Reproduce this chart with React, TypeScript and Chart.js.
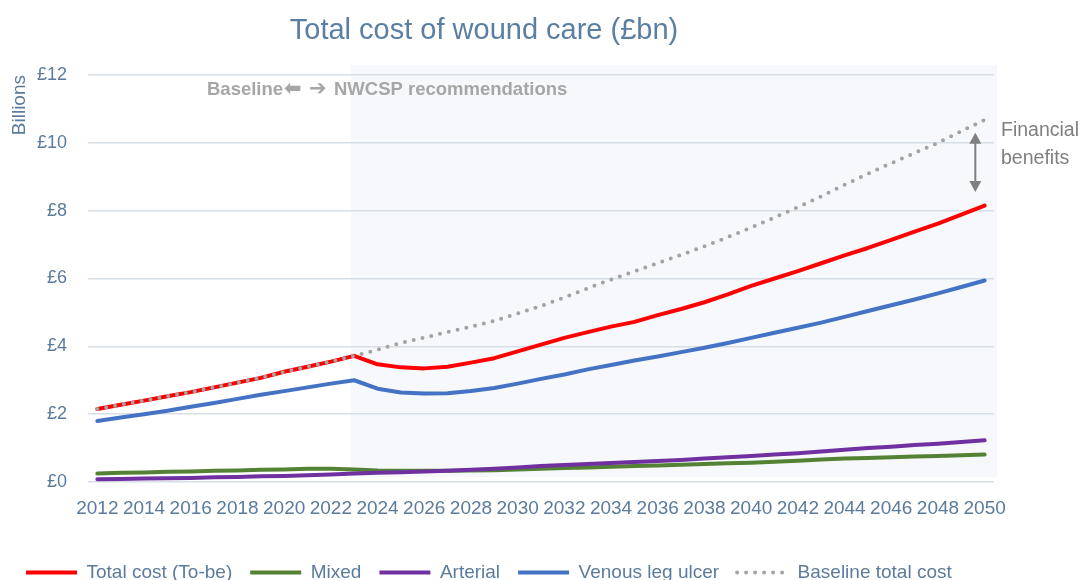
import React, { useEffect, useRef } from "react";
import { Chart, registerables } from "chart.js";

Chart.register(...registerables);

const years = [
  2012, 2013, 2014, 2015, 2016, 2017, 2018, 2019, 2020, 2021, 2022, 2023,
  2024, 2025, 2026, 2027, 2028, 2029, 2030, 2031, 2032, 2033, 2034, 2035,
  2036, 2037, 2038, 2039, 2040, 2041, 2042, 2043, 2044, 2045, 2046, 2047,
  2048, 2049, 2050,
];

const totalCostToBe = [
  2.15, 2.28, 2.4, 2.53, 2.65, 2.79, 2.93, 3.07, 3.25, 3.4, 3.55, 3.72,
  3.47, 3.38, 3.35, 3.4, 3.52, 3.65, 3.85, 4.05, 4.25, 4.42, 4.58, 4.72,
  4.92, 5.1, 5.3, 5.53, 5.78, 6.0, 6.22, 6.45, 6.68, 6.9, 7.14, 7.38,
  7.62, 7.88, 8.15,
];

const mixed = [
  0.25, 0.27, 0.28, 0.3, 0.31, 0.33, 0.34, 0.36, 0.37, 0.39, 0.39, 0.37,
  0.34, 0.33, 0.33, 0.33, 0.34, 0.35, 0.37, 0.39, 0.41, 0.43, 0.45, 0.47,
  0.49, 0.51, 0.53, 0.55, 0.57, 0.6, 0.63, 0.66, 0.69, 0.71, 0.73, 0.75,
  0.77, 0.79, 0.81,
];

const arterial = [
  0.08, 0.09, 0.1, 0.11, 0.12, 0.14, 0.15, 0.17, 0.18, 0.2, 0.22, 0.25,
  0.27, 0.29, 0.31, 0.33, 0.36, 0.39, 0.43, 0.47, 0.5, 0.53, 0.56, 0.59,
  0.62, 0.65, 0.69, 0.73, 0.77, 0.81, 0.85, 0.9, 0.95, 1.0, 1.04, 1.09,
  1.13, 1.18, 1.23,
];

const venousLegUlcer = [
  1.8, 1.9, 2.0, 2.1, 2.22, 2.33, 2.45, 2.57, 2.68, 2.79, 2.9, 3.0,
  2.75, 2.64, 2.61, 2.62, 2.68, 2.77, 2.9, 3.04, 3.17, 3.32, 3.45, 3.58,
  3.7, 3.83, 3.96, 4.1, 4.25, 4.4, 4.55, 4.7, 4.87, 5.04, 5.21, 5.38,
  5.56, 5.75, 5.94,
];

const baselineTotalCost = [
  2.15, 2.28, 2.4, 2.53, 2.65, 2.79, 2.93, 3.07, 3.25, 3.4, 3.55, 3.72,
  3.9, 4.1, 4.26, 4.42, 4.58, 4.75, 4.97, 5.19, 5.44, 5.71, 5.97, 6.21,
  6.45, 6.7, 6.95, 7.22, 7.5, 7.8, 8.1, 8.42, 8.76, 9.09, 9.4, 9.7,
  10.0, 10.34, 10.68,
];

const seriesLabels = [
  "Total cost (To-be)",
  "Mixed",
  "Arterial",
  "Venous leg ulcer",
  "Baseline total cost",
];

const chartTitle = "Total cost of wound care (£bn)";
const yAxisTitle = "Billions";
const phaseLeft = "Baseline";
const phaseArrowLeft = "\u2B05";
const phaseArrowRight = "\u2794";
const phaseRight = "NWCSP recommendations";
const benefitLines = ["Financial", "benefits"];
const recommendationStartYear = 2022.85;
const benefitArrowYear = 2049.6;
const benefitArrowRange = [10.3, 8.55];

const FONT = "'Liberation Sans', Arial, sans-serif";
const TEXT_BLUE = "#5b7b9c";

export default function App() {
  const ref = useRef<HTMLCanvasElement>(null);

  useEffect(() => {
    document.body.style.margin = "0";
    document.body.style.overflow = "hidden";
    const canvas = ref.current;
    if (!canvas) return;

    const toXY = (arr: number[]) => years.map((yr, i) => ({ x: yr, y: arr[i] }));

    const decor = {
      id: "decor",
      afterLayout(chart: any) {
        const t = chart.titleBlock;
        if (t) {
          t.left = 0;
          t.right = 968;
        }
      },
      beforeDraw(chart: any) {
        const { ctx, chartArea, scales } = chart;
        const left = scales.x.getPixelForValue(recommendationStartYear);
        const top = chartArea.top - 10;
        const bottom = chartArea.bottom - 5;
        ctx.save();
        ctx.fillStyle = "#f6f8fb";
        ctx.fillRect(left, top, chartArea.right + 3 - left, bottom - top);
        ctx.restore();
      },
      afterDraw(chart: any) {
        const { ctx, scales } = chart;
        ctx.save();
        // phase label
        ctx.fillStyle = "#a6a6a6";
        ctx.textBaseline = "middle";
        ctx.textAlign = "left";
        ctx.font = `bold 18.5px ${FONT}`;
        ctx.fillText(phaseLeft, 207, 90);
        ctx.font = `bold 21px 'DejaVu Sans', sans-serif`;
        ctx.fillText(phaseArrowLeft, 284, 90);
        ctx.fillText(phaseArrowRight, 309, 90);
        ctx.font = `bold 18.5px ${FONT}`;
        ctx.fillText(phaseRight, 334, 90);

        // financial benefits text
        ctx.font = `19.5px ${FONT}`;
        ctx.fillStyle = "#7f7f7f";
        ctx.textBaseline = "alphabetic";
        ctx.fillText(benefitLines[0], 1001, 136);
        ctx.fillText(benefitLines[1], 1001, 164);

        // double-headed arrow
        const ax = scales.x.getPixelForValue(benefitArrowYear);
        const y1 = scales.y.getPixelForValue(benefitArrowRange[0]);
        const y2 = scales.y.getPixelForValue(benefitArrowRange[1]);
        const hw = 6;
        const hh = 11;
        ctx.strokeStyle = "#7f7f7f";
        ctx.fillStyle = "#7f7f7f";
        ctx.lineWidth = 2;
        ctx.beginPath();
        ctx.moveTo(ax, y1 + hh - 1);
        ctx.lineTo(ax, y2 - hh + 1);
        ctx.stroke();
        ctx.beginPath();
        ctx.moveTo(ax, y1);
        ctx.lineTo(ax - hw, y1 + hh);
        ctx.lineTo(ax + hw, y1 + hh);
        ctx.closePath();
        ctx.fill();
        ctx.beginPath();
        ctx.moveTo(ax, y2);
        ctx.lineTo(ax - hw, y2 - hh);
        ctx.lineTo(ax + hw, y2 - hh);
        ctx.closePath();
        ctx.fill();
        ctx.restore();
      },
    };

    const common = {
      borderWidth: 4,
      pointRadius: 0,
      pointHoverRadius: 0,
      tension: 0,
      borderCapStyle: "round",
      borderJoinStyle: "round",
      fill: false,
    };

    const chart = new Chart(canvas, {
      type: "line",
      data: {
        datasets: [
          { ...common, label: seriesLabels[0], data: toXY(totalCostToBe), borderColor: "#ff0000", backgroundColor: "#ff0000", order: 1 },
          { ...common, label: seriesLabels[1], data: toXY(mixed), borderColor: "#548235", backgroundColor: "#548235", order: 4 },
          { ...common, label: seriesLabels[2], data: toXY(arterial), borderColor: "#7030a0", backgroundColor: "#7030a0", order: 3 },
          { ...common, label: seriesLabels[3], data: toXY(venousLegUlcer), borderColor: "#4472c4", backgroundColor: "#4472c4", order: 2 },
          {
            ...common,
            label: seriesLabels[4],
            data: toXY(baselineTotalCost),
            borderColor: "#a3a3a3",
            backgroundColor: "#a3a3a3",
            borderDash: [0, 9],
            order: 0,
          },
        ],
      } as any,
      options: {
        animation: false,
        responsive: true,
        maintainAspectRatio: false,
        events: [],
        layout: { padding: { left: 8, right: 90, top: 0, bottom: 0 } },
        font: { family: FONT },
        plugins: {
          tooltip: { enabled: false },
          title: {
            display: true,
            text: chartTitle,
            color: "#5a7fa2",
            font: { size: 29, family: FONT, weight: "normal" },
            padding: { top: 14, bottom: 26.2 },
          },
          legend: {
            position: "bottom",
            align: "start",
            labels: {
              usePointStyle: true,
              pointStyleWidth: 51,
              color: TEXT_BLUE,
              padding: 18,
              font: { size: 19, family: FONT },
              generateLabels: (c: any) => {
                const items = (Chart as any).defaults.plugins.legend.labels.generateLabels(c);
                return items
                  .map((it: any) => {
                    const ds = c.data.datasets[it.datasetIndex];
                    return {
                      ...it,
                      pointStyle: "line",
                      lineWidth: 4,
                      strokeStyle: ds.borderColor,
                      fillStyle: ds.borderColor,
                      lineDash: ds.borderDash || [],
                      lineCap: ds.borderDash ? "round" : "butt",
                    };
                  })
                  .sort((a: any, b: any) => a.datasetIndex - b.datasetIndex);
              },
            },
          },
        },
        scales: {
          x: {
            type: "linear",
            min: 2011.6,
            max: 2050.4,
            grid: { display: false, drawTicks: false },
            border: { display: false },
            ticks: {
              stepSize: 2,
              includeBounds: false,
              autoSkip: false,
              maxTicksLimit: 40,
              maxRotation: 0,
              color: TEXT_BLUE,
              font: { size: 19, family: FONT },
              padding: 15,
              callback: (v: any) => String(v),
            },
            afterFit: (s: any) => {
              s.height = 63;
            },
          },
          y: {
            min: 0,
            max: 12,
            grid: { color: "#d6dfe8", lineWidth: 1.5, drawTicks: false },
            border: { display: false },
            ticks: {
              stepSize: 2,
              color: TEXT_BLUE,
              font: { size: 18, family: FONT },
              padding: 21,
              callback: (v: any) => "£" + v,
            },
            title: {
              display: true,
              text: yAxisTitle,
              align: "end",
              color: TEXT_BLUE,
              font: { size: 19, family: FONT },
              padding: { top: 0, bottom: 0 },
            },
            afterFit: (s: any) => {
              s.width = 80;
            },
          },
        },
      } as any,
      plugins: [decor],
    });

    return () => chart.destroy();
  }, []);

  return (
    <div style={{ position: "relative", width: 1084, height: 592 }}>
      <canvas ref={ref} />
    </div>
  );
}
